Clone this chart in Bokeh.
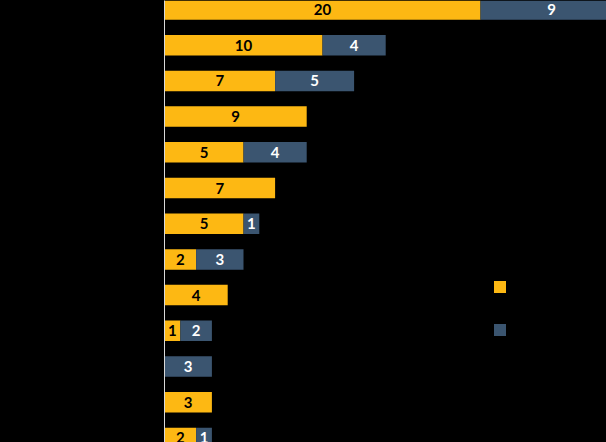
from bokeh.plotting import figure
from bokeh.models import ColumnDataSource, Range1d, FixedTicker, Legend, LegendItem
from bokeh.core.properties import value
from bokeh.embed import file_html
from bokeh.resources import INLINE
from jinja2 import Template

categories = ["Category 1", "Category 2", "Category 3", "Category 4", "Category 5",
              "Category 6", "Category 7", "Category 8", "Category 9", "Category 10",
              "Category 11", "Category 12", "Category 13"]
series_a = [20, 10, 7, 9, 5, 7, 5, 2, 4, 1, 0, 3, 2]
series_b = [9, 4, 5, 0, 4, 0, 1, 3, 0, 2, 3, 0, 1]
series_names = ["Series A", "Series B"]

ORANGE = "#FDB813"
BLUE = "#3B5570"

n = len(categories)
idx = list(range(n))

W, H = 606, 442
LEFT = 164
px_per_unit = 15.8
pitch = 35.7
top_offset = 9.0

x_end = (W - LEFT) / px_per_unit
y_top = -top_offset / pitch
y_bottom = y_top + H / pitch

p = figure(width=W, height=H, output_backend="svg", toolbar_location=None,
           x_range=Range1d(0, x_end), y_range=Range1d(y_bottom, y_top),
           min_border_left=LEFT, min_border_right=0, min_border_top=0, min_border_bottom=0)
p.background_fill_color = "black"
p.border_fill_color = "black"
p.outline_line_color = None
p.xgrid.visible = False
p.ygrid.visible = False
p.xaxis.visible = False

ya = p.yaxis[0]
ya.ticker = FixedTicker(ticks=idx)
ya.major_label_overrides = {i: c for i, c in enumerate(categories)}
ya.major_label_text_color = "black"
ya.major_label_text_font = "Lato"
ya.major_label_text_font_size = "12px"
ya.major_tick_line_color = None
ya.minor_tick_line_color = None
ya.axis_line_color = "#d9d9d9"
ya.axis_line_width = 1

bar_h = 0.575
src = ColumnDataSource(dict(
    y=idx,
    a_left=[0] * n, a_right=series_a,
    b_left=series_a, b_right=[a + b for a, b in zip(series_a, series_b)],
))
ra = p.hbar(y="y", left="a_left", right="a_right", height=bar_h, source=src,
            fill_color=ORANGE, line_color=None)
rb = p.hbar(y="y", left="b_left", right="b_right", height=bar_h, source=src,
            fill_color=BLUE, line_color=None)

# labels
la = dict(x=[], y=[], t=[])
for i, v in enumerate(series_a):
    if v > 0:
        la["x"].append(v / 2); la["y"].append(i); la["t"].append(str(v))
lb = dict(x=[], y=[], t=[])
for i, (a, v) in enumerate(zip(series_a, series_b)):
    if v > 0:
        lb["x"].append(a + v / 2); lb["y"].append(i); lb["t"].append(str(v))

p.text(x="x", y="y", text="t", source=ColumnDataSource(la), text_align="center",
       text_baseline="middle", text_font=value("Lato"), text_font_style="bold",
       text_font_size="15px", text_color="black")
p.text(x="x", y="y", text="t", source=ColumnDataSource(lb), text_align="center",
       text_baseline="middle", text_font=value("Lato"), text_font_style="bold",
       text_font_size="15px", text_color="white")

legend = Legend(items=[LegendItem(label=series_names[0], renderers=[ra]),
                       LegendItem(label=series_names[1], renderers=[rb])],
                location=(327.5, 105.5))
legend.glyph_width = 15
legend.glyph_height = 15
legend.label_height = 15
legend.spacing = 28
legend.padding = 0
legend.margin = 0
legend.border_line_alpha = 0
legend.background_fill_alpha = 0
legend.label_text_color = "black"
legend.label_text_font = "Lato"
legend.label_text_font_size = "12px"
p.add_layout(legend)

tmpl = Template(
    "{% extends base %}"
    "{% block preamble %}<style>html, body { background: #000; }</style>{% endblock %}"
)
open("out.html", "w").write(file_html(p, INLINE, template=tmpl))
